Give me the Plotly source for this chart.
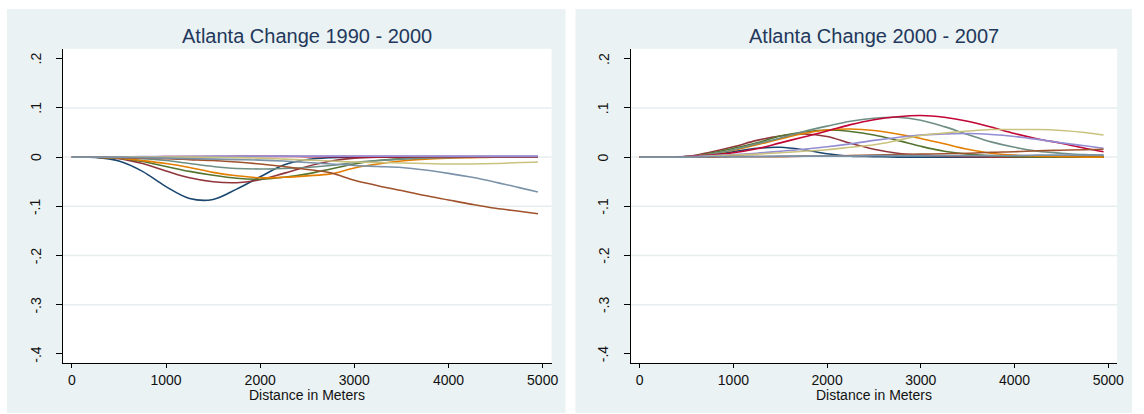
import plotly.graph_objects as go

# Distance grid (metres) at which each smoothed change profile is reported
distance = [0, 250, 500, 750, 1000, 1250, 1500, 1750, 2000, 2250, 2500,
            2750, 3000, 3250, 3500, 3750, 4000, 4250, 4500, 4750, 4950]

series_names = ["s1", "s2", "s3", "s4", "s5", "s6", "s7", "s8", "s9", "s10"]
series_colors = ["#1a476f", "#90353b", "#55752f", "#e37e00", "#6e8e84",
                 "#c10534", "#938dd2", "#cac27e", "#a0522d", "#7b92a8"]

# Change 1990 - 2000
chg_1990_2000 = {
    "s1": [0, -0.0005, -0.008, -0.029, -0.060, -0.084, -0.086, -0.065, -0.040, -0.016, -0.005,
           -0.001, 0, 0, 0, 0, 0, 0, 0, 0, 0],
    "s2": [0, 0, -0.003, -0.013, -0.028, -0.042, -0.050, -0.052, -0.046, -0.033, -0.019,
           -0.008, -0.002, 0, 0, 0, 0, 0, 0, 0, 0],
    "s3": [0, 0, -0.002, -0.009, -0.019, -0.029, -0.037, -0.043, -0.045, -0.041, -0.034,
           -0.024, -0.014, -0.007, -0.003, -0.001, 0, 0, 0, 0, 0],
    "s4": [0, 0, -0.002, -0.007, -0.013, -0.021, -0.031, -0.038, -0.042, -0.041, -0.038,
           -0.034, -0.022, -0.014, -0.008, -0.004, -0.002, -0.001, 0, 0, 0],
    "s5": [0, 0, -0.001, -0.003, -0.007, -0.013, -0.019, -0.023, -0.024, -0.023, -0.021,
           -0.017, -0.011, -0.007, -0.004, -0.002, -0.001, 0, 0, 0, 0],
    "s6": [0, 0, 0, 0.0005, 0.001, 0.001, 0.001, 0.0015, 0.0015, 0.0015, 0.001,
           0.001, 0.001, 0.001, 0.001, 0.001, 0.001, 0.001, 0.001, 0.001, 0.001],
    "s7": [0, 0, 0.0005, 0.001, 0.001, 0.0015, 0.002, 0.002, 0.002, 0.002, 0.002,
           0.002, 0.002, 0.002, 0.002, 0.002, 0.002, 0.002, 0.002, 0.002, 0.002],
    "s8": [0, 0, 0, 0, 0, 0, -0.0005, -0.001, -0.002, -0.004, -0.006,
           -0.008, -0.010, -0.011, -0.012, -0.013, -0.014, -0.014, -0.013, -0.011, -0.010],
    "s9": [0, 0, -0.001, -0.002, -0.003, -0.005, -0.007, -0.010, -0.014, -0.019, -0.025,
           -0.032, -0.047, -0.058, -0.068, -0.078, -0.087, -0.096, -0.104, -0.110, -0.115],
    "s10": [0, 0, 0, -0.001, -0.002, -0.003, -0.004, -0.005, -0.006, -0.008, -0.011,
            -0.014, -0.017, -0.019, -0.021, -0.026, -0.033, -0.041, -0.051, -0.062, -0.071],
}

# Change 2000 - 2007
chg_2000_2007 = {
    "s1": [0, 0, 0.001, 0.005, 0.011, 0.018, 0.020, 0.015, 0.007, 0.002, 0.001,
           0, 0, 0, 0, 0, 0, 0, 0, 0, 0],
    "s2": [0, 0, 0.001, 0.010, 0.021, 0.034, 0.043, 0.047, 0.042, 0.028, 0.016,
           0.008, 0.004, 0.002, 0.001, 0, 0, 0, 0, 0, 0],
    "s3": [0, 0, 0.001, 0.008, 0.018, 0.029, 0.043, 0.051, 0.055, 0.052, 0.045,
           0.034, 0.022, 0.012, 0.006, 0.003, 0.001, 0, 0, 0, 0],
    "s4": [0, 0, 0.001, 0.006, 0.014, 0.025, 0.037, 0.048, 0.055, 0.057, 0.054,
           0.047, 0.038, 0.027, 0.016, 0.008, 0.004, 0.002, 0.001, 0, 0],
    "s5": [0, 0, 0.001, 0.006, 0.015, 0.027, 0.039, 0.052, 0.063, 0.073, 0.079,
           0.081, 0.075, 0.062, 0.046, 0.031, 0.020, 0.012, 0.008, 0.005, 0.004],
    "s6": [0, 0, 0.001, 0.004, 0.009, 0.017, 0.029, 0.041, 0.053, 0.066, 0.076,
           0.082, 0.0845, 0.081, 0.073, 0.061, 0.048, 0.037, 0.028, 0.018, 0.011],
    "s7": [0, 0, 0.001, 0.003, 0.005, 0.008, 0.012, 0.016, 0.021, 0.027, 0.034,
           0.040, 0.045, 0.047, 0.048, 0.046, 0.042, 0.036, 0.029, 0.023, 0.018],
    "s8": [0, 0, 0, 0.002, 0.004, 0.006, 0.009, 0.012, 0.015, 0.020, 0.025,
           0.034, 0.044, 0.049, 0.053, 0.056, 0.056, 0.056, 0.054, 0.050, 0.045],
    "s9": [0, 0, 0, 0, 0.001, 0.001, 0.001, 0.002, 0.002, 0.003, 0.004,
           0.005, 0.006, 0.007, 0.008, 0.010, 0.011, 0.013, 0.014, 0.015, 0.016],
    "s10": [0, 0, 0, 0.001, 0.001, 0.001, 0.002, 0.002, 0.002, 0.002, 0.003,
            0.003, 0.003, 0.003, 0.003, 0.003, 0.003, 0.004, 0.004, 0.004, 0.004],
}

panel_titles = ["Atlanta Change 1990 - 2000", "Atlanta Change 2000 - 2007"]
x_title = "Distance in Meters"
x_ticks = [0, 1000, 2000, 3000, 4000, 5000]
y_ticks = [0.2, 0.1, 0, -0.1, -0.2, -0.3, -0.4]
y_ticktext = [".2", ".1", "0", "-.1", "-.2", "-.3", "-.4"]
y_grid = [0.1, 0, -0.1, -0.2, -0.3]

W, H = 1144, 414
FONT = "Liberation Sans, Arial, sans-serif"
PANEL_BG = "#eaf2f3"
TEXT = "#111111"

# pixel geometry of the two panels
panels_px = [
    {"bg": (7, 569), "plot": (63.3, 555.0), "ylab": 36},
    {"bg": (579, 1139), "plot": (634.7, 1124.0), "ylab": 607},
]
plot_top, plot_bottom = 48.7, 362.7
bg_top, bg_bottom = 9, 413


def fx(px):
    return px / W


def fy(py):
    return 1 - py / H


fig = go.Figure()

for k, data in enumerate([chg_1990_2000, chg_2000_2007]):
    xa = "x" if k == 0 else "x2"
    ya = "y" if k == 0 else "y2"
    for name, color in zip(series_names, series_colors):
        fig.add_trace(go.Scatter(
            x=distance, y=data[name], mode="lines", name=name,
            line=dict(color=color, width=1.6, shape="spline", smoothing=1.0),
            xaxis=xa, yaxis=ya, showlegend=False, hoverinfo="skip",
        ))

shapes = []
annotations = []
for k, p in enumerate(panels_px):
    # grey-blue graph region behind each panel
    shapes.append(dict(type="rect", xref="paper", yref="paper",
                       x0=fx(p["bg"][0]), x1=fx(p["bg"][1]),
                       y0=fy(bg_bottom), y1=fy(bg_top),
                       fillcolor=PANEL_BG, line=dict(width=0), layer="below"))
    # white plot region
    shapes.append(dict(type="rect", xref="paper", yref="paper",
                       x0=fx(p["plot"][0]), x1=fx(p["plot"][1]),
                       y0=fy(plot_bottom), y1=fy(plot_top),
                       fillcolor="white", line=dict(width=0), layer="below"))
    xr = "x domain" if k == 0 else "x2 domain"
    yr = "y" if k == 0 else "y2"
    for g in y_grid:
        shapes.append(dict(type="line", xref=xr, yref=yr, x0=0, x1=1, y0=g, y1=g,
                           line=dict(color="#e6eef0", width=1.5), layer="below"))
    # panel title
    annotations.append(dict(
        text=panel_titles[k], xref="paper", yref="paper",
        x=fx((p["plot"][0] + p["plot"][1]) / 2), y=fy(35.5),
        xanchor="center", yanchor="middle", showarrow=False,
        font=dict(family=FONT, size=20, color="#23385c"),
    ))
    # x-axis title
    annotations.append(dict(
        text=x_title, xref="paper", yref="paper",
        x=fx((p["plot"][0] + p["plot"][1]) / 2), y=fy(395),
        xanchor="center", yanchor="middle", showarrow=False,
        font=dict(family=FONT, size=14, color=TEXT),
    ))
    # vertical y tick labels
    for v, t in zip(y_ticks, y_ticktext):
        annotations.append(dict(
            text=t, xref="paper", yref=yr, x=fx(p["ylab"]), y=v,
            xanchor="center", yanchor="middle", textangle=-90, showarrow=False,
            font=dict(family=FONT, size=14, color=TEXT),
        ))

axis_common_x = dict(
    range=[-95, 5095], tickvals=x_ticks, ticks="outside", ticklen=4,
    tickcolor="#000000", tickwidth=1, showline=True, linecolor="#000000",
    linewidth=1, showgrid=False, zeroline=False,
    tickfont=dict(family=FONT, size=14, color=TEXT),
)
axis_common_y = dict(
    range=[-0.4177, 0.2203], tickvals=y_ticks,
    ticks="outside", ticklen=6, tickcolor="#000000", tickwidth=1,
    showline=True, linecolor="#000000", linewidth=1, showgrid=False,
    zeroline=False, showticklabels=False,
)

xa1 = dict(axis_common_x, domain=[fx(panels_px[0]["plot"][0]), fx(panels_px[0]["plot"][1])], anchor="y")
xa2 = dict(axis_common_x, domain=[fx(panels_px[1]["plot"][0]), fx(panels_px[1]["plot"][1])], anchor="y2")
ya1 = dict(axis_common_y, domain=[fy(plot_bottom), fy(plot_top)], anchor="x")
ya2 = dict(axis_common_y, domain=[fy(plot_bottom), fy(plot_top)], anchor="x2")

fig.update_layout(
    width=W, height=H,
    margin=dict(l=0, r=0, t=0, b=0),
    paper_bgcolor="white", plot_bgcolor="white",
    xaxis=xa1, yaxis=ya1, xaxis2=xa2, yaxis2=ya2,
    shapes=shapes, annotations=annotations,
    showlegend=False,
)

fig.write_html("out.html")
